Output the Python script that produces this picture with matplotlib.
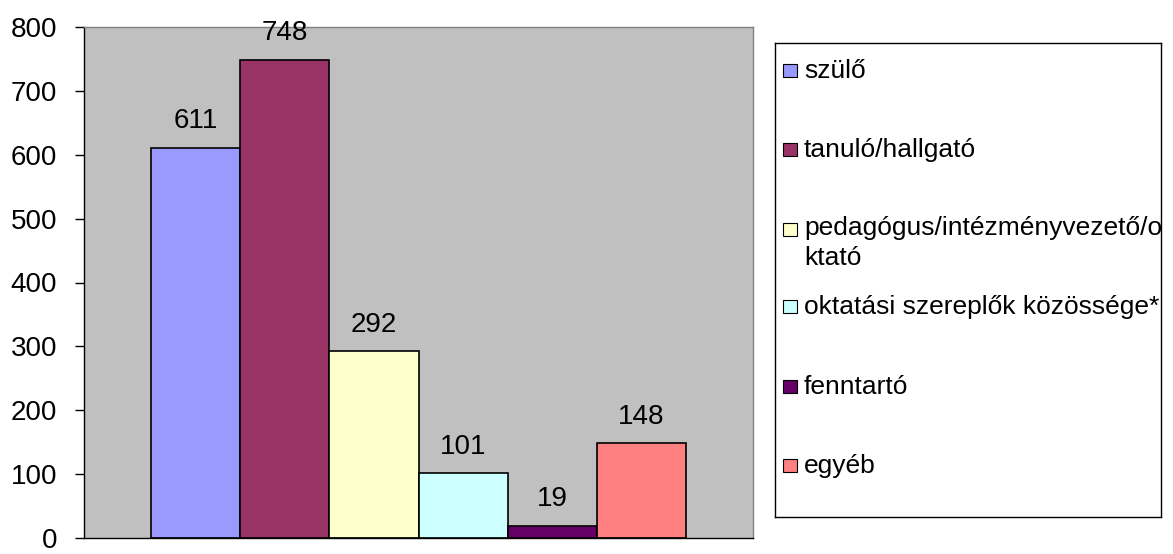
import matplotlib
matplotlib.use("Agg")
import matplotlib.pyplot as plt
from matplotlib.patches import Rectangle

categories = ["szülő", "tanuló/hallgató", "pedagógus/intézményvezető/o\nktató",
              "oktatási szereplők közössége*", "fenntartó", "egyéb"]
values = [611, 748, 292, 101, 19, 148]
colors = ["#9999FF", "#993366", "#FFFFCC", "#CCFFFF", "#660066", "#FF8080"]
yticks = [0, 100, 200, 300, 400, 500, 600, 700, 800]

plt.rcParams['font.family'] = ['Liberation Sans', 'DejaVu Sans']

W, H = 1173, 554
fig = plt.figure(figsize=(W / 100, H / 100), dpi=100)
fig.patch.set_facecolor("white")

ax = fig.add_axes([84 / W, 1 - 538 / H, (753 - 84) / W, (538 - 27) / H])
ax.set_facecolor("#C0C0C0")
x = list(range(len(values)))
ax.bar(x, values, width=1.0, color=colors, edgecolor="black", linewidth=1.2)
for xi, v in zip(x, values):
    ax.annotate(str(v), (xi, v), xytext=(0, 10), textcoords="offset points",
                ha="center", va="bottom", fontsize=20)
gap = 0.758
ax.set_xlim(-0.5 - gap, len(values) - 0.5 + gap)
ax.set_ylim(0, 800)
ax.set_yticks(yticks)
ax.set_yticklabels([str(t) for t in yticks], fontsize=20)
ax.set_xticks([])
ax.tick_params(axis="y", direction="out", length=6.5, width=1, pad=13, color="black")
for s in ["top", "right"]:
    ax.spines[s].set_color("#808080")
    ax.spines[s].set_linewidth(1)
for s in ["left", "bottom"]:
    ax.spines[s].set_color("black")
    ax.spines[s].set_linewidth(1)

# legend
lx0, lx1, ly0, ly1 = 775, 1161, 43, 517
lax = fig.add_axes([lx0 / W, 1 - ly1 / H, (lx1 - lx0) / W, (ly1 - ly0) / H])
lax.set_xlim(lx0, lx1)
lax.set_ylim(ly1, ly0)
lax.set_xticks([])
lax.set_yticks([])
for s in lax.spines.values():
    s.set_color("black")
    s.set_linewidth(1)
ycenters = [71, 150, 230, 307, 387, 466]
for cat, col, yc in zip(categories, colors, ycenters):
    lax.add_patch(Rectangle((783, yc - 7), 14, 13, facecolor=col, edgecolor="black", linewidth=0.8))
    if "\n" in cat:
        lax.text(804, yc - 14, cat, fontsize=19, va="top", ha="left", linespacing=1.3)
    else:
        lax.text(804, yc, cat, fontsize=19, va="center", ha="left")

fig.savefig("out.png", dpi=100)
